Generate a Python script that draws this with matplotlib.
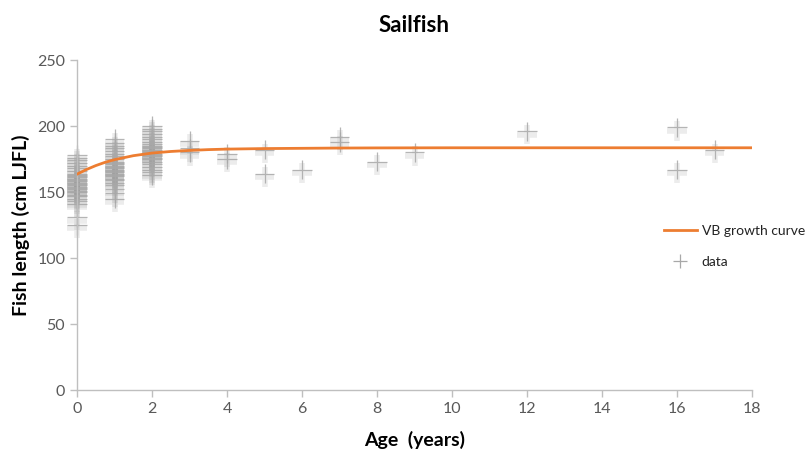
import matplotlib
matplotlib.use("Agg")
import matplotlib.pyplot as plt
import matplotlib.patheffects as pe
from matplotlib.lines import Line2D

plt.rcParams['font.family'] = ['Lato', 'DejaVu Sans']

# VB growth curve
curve_age = [0, 0.25, 0.5, 0.75, 1, 1.5, 2, 2.5, 3, 3.5, 4, 5, 6, 7, 8, 10, 12, 14, 16, 18]
curve_len = [163.5, 167, 170, 172.5, 174.5, 177.5, 179.5, 180.7, 181.5, 182.1, 182.5, 182.9, 183.1, 183.3, 183.4, 183.5, 183.5, 183.5, 183.5, 183.5]

# observed data
age0 = [125, 131, 141, 143, 145, 147, 148, 150, 151, 152, 153, 154, 155, 156, 157, 158, 159, 160,
        161, 162, 163, 164, 166, 168, 170, 172, 174, 176, 178]
age1 = [145, 149, 152, 155, 157, 159, 160, 162, 163, 164, 165, 166, 167, 168, 169, 170, 171, 172,
        173, 175, 177, 179, 181, 183, 185, 187, 190]
age2 = [163, 165, 167, 169, 171, 173, 175, 176, 177, 178, 179, 180, 181, 182, 183, 184, 185, 186,
        188, 190, 192, 194, 196, 198, 200]
other_age = [3, 3, 3, 4, 4, 5, 5, 6, 7, 7, 8, 9, 12, 16, 16, 17]
other_len = [189, 183, 180, 179, 175, 182, 164, 167, 192, 188, 173, 180, 196, 199, 167, 182]

data_age = [0] * len(age0) + [1] * len(age1) + [2] * len(age2) + other_age
data_len = age0 + age1 + age2 + other_len

fig = plt.figure(figsize=(8.09, 4.59), dpi=100)
ax = fig.add_axes([77 / 809, 1 - 390 / 459, (752 - 77) / 809, (390 - 60) / 459])

shadow = [pe.SimpleLineShadow(offset=(0, -2.5), shadow_color='#999999', alpha=0.18, linewidth=4),
          pe.Normal()]
pts, = ax.plot(data_age, data_len, linestyle='none', marker='+', markersize=14,
               markeredgewidth=0.9, color='#a8a8a8', alpha=0.85, label='data', zorder=2,
               clip_on=False)
pts.set_path_effects(shadow)
ax.plot(curve_age, curve_len, color='#ED7D31', linewidth=2.0, label='VB growth curve', zorder=3)

ax.set_xlim(0, 18)
ax.set_ylim(0, 250)
ax.set_xticks(range(0, 19, 2))
ax.set_yticks(range(0, 251, 50))
for s in ['top', 'right']:
    ax.spines[s].set_visible(False)
for s in ['left', 'bottom']:
    ax.spines[s].set_color('#bfbfbf')
    ax.spines[s].set_linewidth(1.0)
ax.tick_params(axis='both', colors='#bfbfbf', labelcolor='#595959', labelsize=11.5, length=5, width=1)

ax.set_title('Sailfish', fontsize=16, fontweight='bold', pad=20)
ax.set_xlabel('Age  (years)', fontsize=14, fontweight='bold', labelpad=11)
ax.set_ylabel('Fish length (cm LJFL)', fontsize=14, fontweight='bold', labelpad=5)

leg_handles = [Line2D([], [], color='#ED7D31', linewidth=2.0),
               Line2D([], [], linestyle='none', marker='+', markersize=10, markeredgewidth=0.9,
                      color='#a8a8a8')]
leg = fig.legend(leg_handles, ['VB growth curve', 'data'], loc='upper right',
                 bbox_to_anchor=(805 / 809, 1 - 225 / 459), borderpad=0, borderaxespad=0,
                 frameon=False, fontsize=10, handlelength=2.4, labelspacing=1.35, handletextpad=0.35)
for t in leg.get_texts():
    t.set_color('#222222')

fig.savefig('out.png', dpi=100)
